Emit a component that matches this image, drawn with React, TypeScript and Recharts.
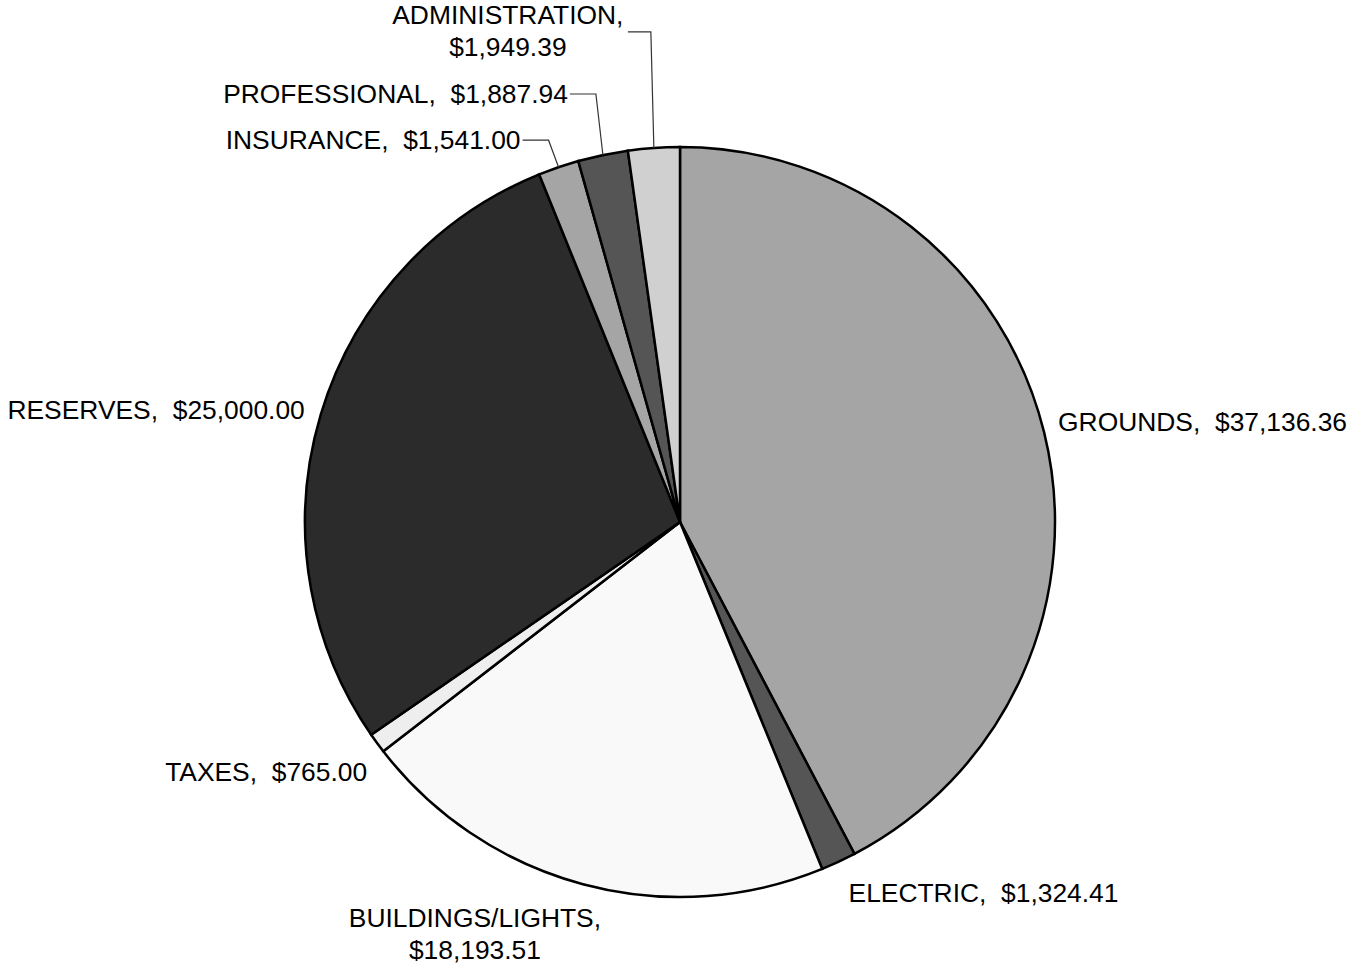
import React from "react";
import { PieChart, Pie, Cell } from "recharts";

const CATEGORIES = [
  "GROUNDS",
  "ELECTRIC",
  "BUILDINGS/LIGHTS",
  "TAXES",
  "RESERVES",
  "INSURANCE",
  "PROFESSIONAL",
  "ADMINISTRATION",
];

const AMOUNTS = [37136.36, 1324.41, 18193.51, 765.0, 25000.0, 1541.0, 1887.94, 1949.39];

const SLICE_COLORS = [
  "#a5a5a5",
  "#555555",
  "#f9f9f9",
  "#eeeeee",
  "#2b2b2b",
  "#a5a5a5",
  "#555555",
  "#d0d0d0",
];

// label placement relative to the point on the rim at the slice's mid angle
const LABEL_LAYOUT: {
  dx: number;
  dy: number;
  anchor: "start" | "middle" | "end";
  split?: boolean;
  leader?: [number, number][];
}[] = [
  { dx: 14, dy: -10, anchor: "start" },
  { dx: 10, dy: 31, anchor: "start" },
  { dx: -108, dy: 34, anchor: "middle", split: true },
  { dx: -10, dy: 29, anchor: "end" },
  { dx: -16, dy: -4, anchor: "end" },
  { dx: -38, dy: -27, anchor: "end", leader: [[-10, -27], [-36, -27]] },
  { dx: -35, dy: -61, anchor: "end", leader: [[-7, -61], [-33, -61]] },
  { dx: -146, dy: -133, anchor: "middle", split: true, leader: [[-3, -116], [-26, -116]] },
];

const data = CATEGORIES.map((name, i) => ({ name, value: AMOUNTS[i] }));

const money = (v: number) =>
  "$" + v.toLocaleString("en-US", { minimumFractionDigits: 2, maximumFractionDigits: 2 });

const FONT = "'Liberation Sans', Arial, sans-serif";
const RAD = Math.PI / 180;

function renderLabel(props: any) {
  const { cx, cy, midAngle, outerRadius, index, name, value } = props;
  const layout = LABEL_LAYOUT[index];
  const ex = cx + outerRadius * Math.cos(midAngle * RAD);
  const ey = cy - outerRadius * Math.sin(midAngle * RAD);
  const tx = ex + layout.dx;
  const ty = ey + layout.dy;
  const lines = layout.split ? [`${name},`, money(value)] : [`${name},  ${money(value)}`];

  return (
    <g key={`lbl-${index}`}>
      {layout.leader && (
        <polyline
          points={[[0, 0], ...layout.leader].map(([x, y]) => `${ex + x},${ey + y}`).join(" ")}
          fill="none"
          stroke="#333"
          strokeWidth={1.2}
        />
      )}
      {lines.map((line, k) => (
        <text
          key={k}
          x={tx}
          y={ty + k * 32}
          textAnchor={layout.anchor}
          dominantBaseline="central"
          fontFamily={FONT}
          fontSize={26.4}
          fill="#000"
          style={{ whiteSpace: "pre" }}
        >
          {line}
        </text>
      ))}
    </g>
  );
}

export default function App() {
  return (
    <div style={{ position: "absolute", left: 0, top: 0, width: 1352, height: 964, background: "#fff" }}>
      <PieChart
        width={1352}
        height={964}
        margin={{ top: 0, right: 0, bottom: 0, left: 0 }}
        style={{ overflow: "visible" }}
      >
        <Pie
          data={data}
          dataKey="value"
          nameKey="name"
          cx={680}
          cy={522}
          outerRadius={375}
          startAngle={90}
          endAngle={-270}
          stroke="#000"
          strokeWidth={2.5}
          label={renderLabel}
          labelLine={false}
          isAnimationActive={false}
        >
          {data.map((d, i) => (
            <Cell key={d.name} fill={SLICE_COLORS[i]} />
          ))}
        </Pie>
      </PieChart>
    </div>
  );
}
